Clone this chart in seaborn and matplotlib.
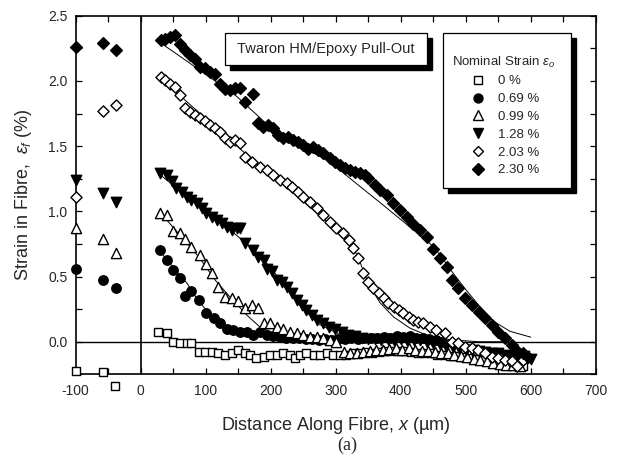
import numpy as np
import pandas as pd
import seaborn as sns
import matplotlib
matplotlib.use("Agg")
import matplotlib.pyplot as plt
from matplotlib.patches import Rectangle
from matplotlib.lines import Line2D
from matplotlib.transforms import offset_copy

# ---- measured fibre strain profiles (x in µm, strain in %) ----
x_0 = [-100, -58, -40, 27, 40, 50, 60, 71, 78, 89, 99, 109, 119, 130, 140, 150, 160, 168, 178, 189, 199,
       209, 219, 230, 237, 245, 255, 266, 276, 286, 296, 307, 316, 326, 336, 346, 356, 366, 376, 386,
       396, 406, 416, 426, 436, 446, 456, 466, 476, 486, 496, 506, 516, 526, 536, 546, 556, 566, 578, 588]
y_0 = [-0.225, -0.23, -0.337, 0.077, 0.064, 0.0, -0.013, -0.013, -0.013, -0.077, -0.077, -0.077, -0.09,
       -0.10, -0.09, -0.064, -0.09, -0.10, -0.128, -0.115, -0.10, -0.10, -0.09, -0.10, -0.128, -0.10,
       -0.09, -0.10, -0.10, -0.09, -0.10, -0.10, -0.10, -0.09, -0.09, -0.08, -0.085, -0.08, -0.075,
       -0.07, -0.07, -0.075, -0.08, -0.085, -0.085, -0.09, -0.10, -0.10, -0.11, -0.11, -0.12, -0.128,
       -0.13, -0.14, -0.145, -0.15, -0.155, -0.16, -0.166, -0.19]

x_069 = [-100, -58, -38, 30, 40, 50, 60, 68, 78, 89, 101, 112, 122, 132, 142, 153, 163, 173, 184, 194,
         204, 214, 224, 234, 244, 254, 264, 274, 284, 294, 304, 314, 324, 334, 344, 354, 364, 374, 384,
         394, 404, 414, 424, 434, 444, 454, 464]
y_069 = [0.555, 0.473, 0.414, 0.70, 0.627, 0.55, 0.486, 0.35, 0.39, 0.32, 0.218, 0.179, 0.141, 0.10,
         0.09, 0.077, 0.077, 0.05, 0.077, 0.05, 0.04, 0.035, 0.03, 0.03, 0.025, 0.02, 0.02, 0.015, 0.02,
         0.015, 0.02, 0.02, 0.025, 0.02, 0.03, 0.025, 0.03, 0.035, 0.03, 0.04, 0.035, 0.04, 0.03, 0.025,
         0.02, 0.01, 0.0]

x_099 = [-100, -58, -38, 30, 40, 50, 60, 68, 78, 91, 101, 109, 119, 130, 140, 150, 160, 171, 181, 189,
         199, 209, 219, 230, 240, 250, 260, 271, 281, 291, 301, 312, 322, 332, 342, 352, 362, 372, 382,
         392, 402, 412, 422, 432, 442, 452, 462, 472, 482, 492, 502, 512, 522, 532, 542, 552, 562, 572, 584]
y_099 = [0.87, 0.788, 0.678, 0.99, 0.975, 0.85, 0.835, 0.79, 0.73, 0.665, 0.595, 0.53, 0.42, 0.34, 0.335,
         0.31, 0.255, 0.28, 0.255, 0.14, 0.14, 0.115, 0.10, 0.077, 0.064, 0.05, 0.038, 0.038, 0.026,
         0.013, 0.0, -0.077, -0.09, -0.09, -0.077, -0.07, -0.065, -0.06, -0.055, -0.05, -0.06, -0.05,
         -0.06, -0.07, -0.075, -0.08, -0.085, -0.09, -0.10, -0.11, -0.12, -0.13, -0.14, -0.15, -0.16,
         -0.17, -0.175, -0.18, -0.19]

x_128 = [-100, -58, -38, 30, 40, 48, 55, 63, 71, 78, 86, 94, 101, 109, 117, 125, 132, 140, 148, 153, 160,
         173, 181, 189, 194, 202, 209, 217, 225, 232, 240, 248, 255, 263, 271, 281, 289, 299, 309, 319,
         330, 340, 350, 360, 370, 380, 390, 400, 410, 420, 430, 440, 450, 460, 470, 480, 490, 500, 510,
         520, 530, 540, 550, 560, 570, 580, 590, 601]
y_128 = [1.24, 1.14, 1.074, 1.29, 1.28, 1.23, 1.18, 1.15, 1.11, 1.085, 1.06, 1.025, 0.985, 0.96, 0.93,
         0.91, 0.88, 0.855, 0.87, 0.87, 0.755, 0.70, 0.65, 0.625, 0.56, 0.54, 0.47, 0.46, 0.42, 0.37,
         0.32, 0.28, 0.245, 0.205, 0.165, 0.14, 0.115, 0.10, 0.077, 0.05, 0.04, 0.025, 0.02, 0.02, 0.015,
         0.02, 0.01, 0.02, 0.01, 0.015, 0.01, 0.0, -0.01, -0.02, -0.03, -0.04, -0.05, -0.06, -0.065,
         -0.07, -0.08, -0.09, -0.09, -0.10, -0.11, -0.12, -0.11, -0.13]

x_203 = [-100, -58, -38, 31, 37, 45, 53, 60, 68, 76, 84, 91, 99, 107, 114, 122, 130, 137, 145, 153, 160,
         171, 183, 194, 204, 214, 225, 232, 242, 250, 260, 271, 280, 291, 301, 311, 320, 327, 334, 342,
         350, 358, 366, 374, 381, 389, 397, 404, 412, 419, 427, 435, 445, 455, 468, 479, 488, 499, 510,
         519, 530, 541, 550, 560, 571, 579, 588]
y_203 = [1.112, 1.769, 1.815, 2.03, 2.01, 1.98, 1.955, 1.89, 1.79, 1.765, 1.74, 1.715, 1.69, 1.66, 1.64,
         1.61, 1.56, 1.535, 1.545, 1.52, 1.42, 1.38, 1.34, 1.32, 1.28, 1.24, 1.215, 1.19, 1.15, 1.11,
         1.075, 1.025, 0.97, 0.92, 0.87, 0.83, 0.78, 0.72, 0.64, 0.53, 0.46, 0.41, 0.37, 0.335, 0.295,
         0.27, 0.245, 0.22, 0.19, 0.165, 0.155, 0.14, 0.115, 0.09, 0.065, 0.0, -0.01, -0.04, -0.05,
         -0.065, -0.09, -0.115, -0.125, -0.14, -0.15, -0.19, -0.14]

x_230 = [-100, -58, -38, 31, 37, 45, 53, 60, 68, 76, 84, 91, 99, 107, 114, 122, 130, 137, 145, 153, 160,
         173, 181, 188, 196, 204, 211, 219, 226, 234, 242, 250, 257, 265, 273, 281, 291, 299, 307, 315,
         322, 330, 337, 345, 350, 361, 368, 379, 388, 399, 409, 419, 430, 440, 450, 460, 471, 479, 488,
         499, 510, 520, 530, 541, 550, 560, 571, 578, 588, 596]
y_230 = [2.262, 2.288, 2.237, 2.31, 2.32, 2.34, 2.35, 2.28, 2.24, 2.20, 2.17, 2.11, 2.10, 2.07, 2.05,
         1.98, 1.94, 1.93, 1.945, 1.945, 1.84, 1.90, 1.68, 1.65, 1.66, 1.64, 1.585, 1.56, 1.57, 1.55,
         1.53, 1.51, 1.48, 1.495, 1.47, 1.445, 1.41, 1.38, 1.355, 1.33, 1.32, 1.30, 1.29, 1.28, 1.255,
         1.20, 1.16, 1.125, 1.06, 1.01, 0.96, 0.905, 0.855, 0.805, 0.71, 0.645, 0.57, 0.475, 0.41, 0.335,
         0.28, 0.23, 0.18, 0.13, 0.077, 0.03, -0.025, -0.065, -0.09, -0.115]

# ---- model fits (thin curves) ----
fx_069 = [30, 50, 71, 85, 101, 115, 132, 150, 173, 200, 225, 270, 300]
fy_069 = [0.69, 0.57, 0.45, 0.34, 0.24, 0.17, 0.125, 0.09, 0.064, 0.035, 0.013, 0.0, 0.0]
fx_099 = [30, 60, 91, 115, 137, 163, 183, 214, 250, 300, 360]
fy_099 = [0.99, 0.82, 0.64, 0.47, 0.345, 0.205, 0.115, 0.04, 0.015, 0.005, 0.0]
fx_128 = [30, 80, 130, 170, 200, 225, 250, 276, 300, 327, 360, 420, 480]
fy_128 = [1.28, 1.08, 0.89, 0.72, 0.57, 0.40, 0.25, 0.13, 0.07, 0.04, 0.02, 0.01, 0.005]
fx_203 = [31, 80, 130, 180, 230, 280, 327, 335, 350, 368, 389, 414, 440, 476, 520, 560]
fy_203 = [2.02, 1.80, 1.58, 1.36, 1.16, 0.95, 0.72, 0.64, 0.45, 0.30, 0.19, 0.105, 0.05, 0.015, 0.0, 0.0]
fx_230 = [31, 60, 100, 148, 209, 250, 291, 330, 370, 414, 440, 460, 480, 500, 520, 542, 568, 600]
fy_230 = [2.29, 2.19, 2.05, 1.88, 1.60, 1.49, 1.38, 1.22, 1.06, 0.88, 0.78, 0.67, 0.53, 0.40, 0.28,
          0.16, 0.08, 0.035]

labels = ["0 %", "0.69 %", "0.99 %", "1.28 %", "2.03 %", "2.30 %"]
markers = ["s", "o", "^", "v", "D", "D"]
filled = [False, True, False, True, False, True]
sizes = [34, 46, 54, 56, 32, 36]

series_x = [x_0, x_069, x_099, x_128, x_203, x_230]
series_y = [y_0, y_069, y_099, y_128, y_203, y_230]
fits = [(fx_069, fy_069), (fx_099, fy_099), (fx_128, fy_128), (fx_203, fy_203), (fx_230, fy_230)]

sns.set_theme(style="ticks")
plt.rcParams["font.family"] = ["Liberation Sans", "DejaVu Sans"]
plt.rcParams["mathtext.fontset"] = "custom"
plt.rcParams["mathtext.rm"] = "Liberation Sans"
plt.rcParams["mathtext.it"] = "Liberation Sans:italic"
plt.rcParams["axes.unicode_minus"] = False

fig = plt.figure(figsize=(6.17, 4.59), dpi=100)
ax = fig.add_axes([0.1227, 0.1845, 0.8428, 0.7813])

# reference axes through the origin
ax.axhline(0, color="black", lw=1.0, zorder=1)
ax.axvline(0, color="black", lw=1.2, zorder=1)

for fx, fy in fits:
    sns.lineplot(x=fx, y=fy, color="black", linewidth=0.7, estimator=None, sort=False, ax=ax, zorder=2)

for xs, ys, m, f, s in zip(series_x, series_y, markers, filled, sizes):
    df = pd.DataFrame({"x": xs, "y": ys})
    sns.scatterplot(data=df, x="x", y="y", marker=m, s=s,
                    color="black" if f else "white", edgecolor="black", linewidth=1.0,
                    ax=ax, clip_on=False, zorder=3, legend=False)

ax.set_xlim(-100, 700)
ax.set_ylim(-0.25, 2.5)
ax.set_xticks(np.arange(-100, 701, 100))
ax.set_xticks(np.arange(-100, 701, 50), minor=True)
ax.set_yticks(np.arange(0, 2.51, 0.5))
ax.set_yticks(np.arange(-0.25, 2.51, 0.25), minor=True)
ax.set_yticklabels([f"{v:.1f}" for v in np.arange(0, 2.51, 0.5)])
ax.tick_params(which="both", direction="in", top=True, right=True, length=4, width=0.9, color="black")
ax.tick_params(axis="x", which="major", labelsize=10, pad=7)
ax.tick_params(axis="y", which="major", labelsize=10, pad=6)
for sp in ax.spines.values():
    sp.set_linewidth(1.2)
    sp.set_color("black")

ax.set_xlabel("Distance Along Fibre, $x$ (µm)", fontsize=13)
ax.set_ylabel("Strain in Fibre,  $\\varepsilon_f$ (%)", fontsize=13)
ax.xaxis.set_label_coords(0.5, -0.113)
ax.yaxis.set_label_coords(-0.08, 0.5)

fig.text(0.562, 0.03, "(a)", fontsize=13, family="Liberation Serif", ha="center", va="center")

# title box with drop shadow
shadow = offset_copy(ax.transAxes, fig=fig, x=5, y=-5, units="dots")
tb = (0.287, 0.862, 0.389, 0.090)
ax.add_patch(Rectangle(tb[:2], tb[2], tb[3], transform=shadow, fc="black", ec="black", zorder=5))
ax.add_patch(Rectangle(tb[:2], tb[2], tb[3], transform=ax.transAxes, fc="white", ec="black", lw=0.9, zorder=6))
ax.text(tb[0] + tb[2] / 2, tb[1] + tb[3] / 2, "Twaron HM/Epoxy Pull-Out", transform=ax.transAxes,
        ha="center", va="center", fontsize=10.5, zorder=7)

# legend box with drop shadow
lb = (0.706, 0.5195, 0.246, 0.432)
ax.add_patch(Rectangle(lb[:2], lb[2], lb[3], transform=shadow, fc="black", ec="black", zorder=5))
ax.add_patch(Rectangle(lb[:2], lb[2], lb[3], transform=ax.transAxes, fc="white", ec="black", lw=0.9, zorder=6))
handles = [Line2D([], [], ls="none", marker=m, markersize=np.sqrt(s) * 0.95,
                  markerfacecolor="black" if f else "white", markeredgecolor="black", markeredgewidth=1.0)
           for m, f, s in zip(markers, filled, sizes)]
leg = ax.legend(handles, labels, title="Nominal Strain $\\varepsilon_o$", loc="upper center",
                bbox_to_anchor=(0.822, 0.91), frameon=False, fontsize=9.5, title_fontsize=9.5,
                handlelength=1.6, handletextpad=0.7, labelspacing=0.42, borderpad=0.0)
leg.set_zorder(8)

fig.savefig("out.png", dpi=100)
